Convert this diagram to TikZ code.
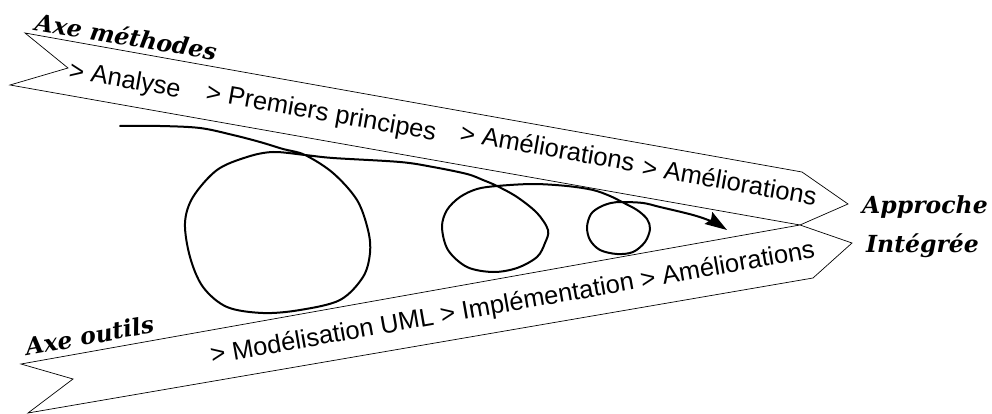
\documentclass[tikz,border=0pt]{standalone}
\usepackage{fontspec}
\setsansfont{Liberation Sans}
\newfontfamily\axefont{DejaVu Serif}
\usetikzlibrary{arrows.meta}
\begin{document}
\begin{tikzpicture}[x=1pt,y=-1pt,
  band/.style={draw=black, line width=0.7pt, line join=miter, fill=white},
  steptext/.style={font=\sffamily\fontsize{25.5}{30}\selectfont, inner sep=0pt, anchor=base west},
  axetext/.style={font=\axefont\bfseries\itshape\fontsize{23.5}{28}\selectfont, inner sep=0pt, anchor=base west},
  loopline/.style={line width=2pt, line cap=round, line join=round}]
\useasboundingbox (0,0) rectangle (992,414);

% upper band (Axe methodes)
\coordinate (u1) at (25,33);
\coordinate (u2) at (802,172);
\coordinate (u3) at (848,204);
\coordinate (m)  at (800,225);
\coordinate (u5) at (10,85);
\coordinate (u6) at (68,68);
\draw[band] (u1) -- (u2) -- (u3) -- (m) -- (u5) -- (u6) -- cycle;

% lower band (Axe outils)
\coordinate (l1) at (21,364);
\coordinate (l3) at (852,243);
\coordinate (l4) at (813,278);
\coordinate (l5) at (28,413);
\coordinate (l6) at (73,379);
\draw[band] (l1) -- (m) -- (l3) -- (l4) -- (l5) -- (l6) -- cycle;

% spiral curve
\draw[loopline, -{Stealth[length=22pt,width=14pt,inset=3pt]}]
  plot[smooth, tension=0.55] coordinates {
  (120,126) (160,126) (200,128) (233,135) (260,142) (283,149) (305,155)
  (333,173) (357,200) (368,230) (370,253) (363,277) (340,300) (300,310)
  (263,313) (227,307) (203,287) (190,257) (185,223) (193,197) (217,170)
  (247,157) (273,152) (305,155) (333,158) (400,162) (433,167) (467,174)
  (483,180) (497,186) (517,197) (537,213) (548,230) (545,243) (537,257)
  (517,268) (493,272) (467,267) (448,250) (442,227) (447,210) (460,197)
  (477,189) (497,186) (533,184) (567,186) (593,190) (610,196) (622,202)
  (637,210) (647,219) (650,229) (645,242) (633,252) (617,254) (600,250)
  (590,240) (587,227) (591,214) (600,207) (611,203) (622,202) (643,203)
  (660,207) (693,215) (713,222) (727,230)};

% step texts
\node[steptext, rotate=-10] (t1) at (68,78) {> Analyse};
\node[steptext, rotate=-10] (t2) at (205,100) {> Premiers principes};
\node[steptext, rotate=-10] (t3) at (459,141) {> Améliorations};
\node[steptext, rotate=-10] (t4) at (641,175) {> Améliorations};
\node[steptext, rotate=10] (t5) at (212,364) {> Modélisation UML > Implémentation > Améliorations};

% axis labels
\node[axetext, rotate=-9.5] (a1) at (34,30) {Axe méthodes};
\node[axetext, rotate=10.5] (a2) at (27,356) {Axe outils};
\node[axetext] (a3) at (862,213) {Approche};
\node[axetext] (a4) at (866,252) {Intégrée};
\end{tikzpicture}
\end{document}
